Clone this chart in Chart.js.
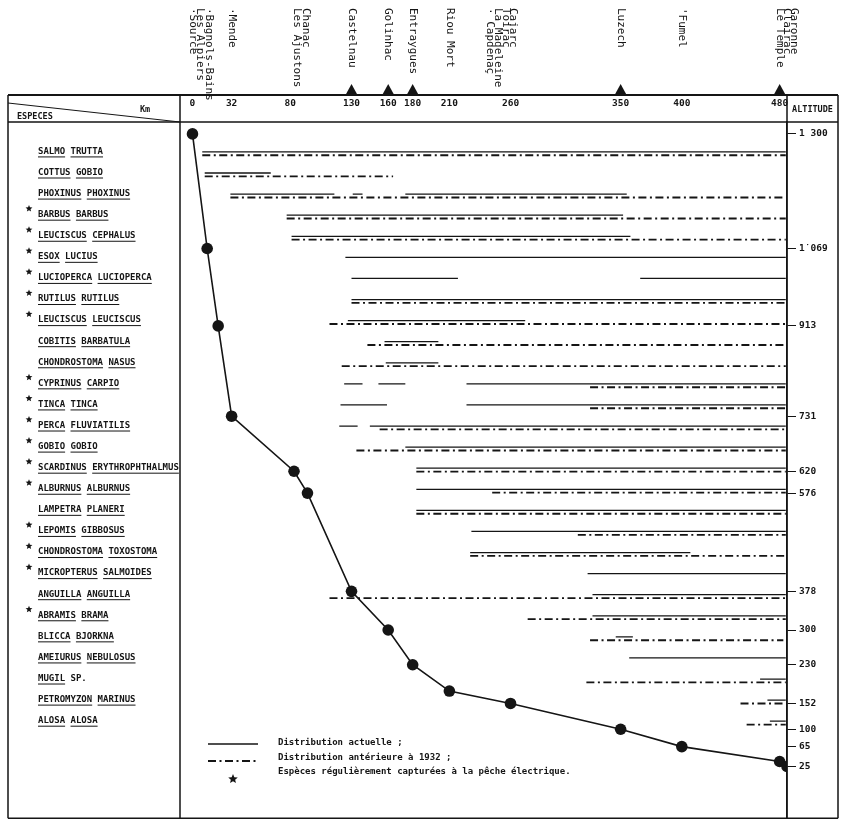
<!DOCTYPE html>
<html>
<head>
<meta charset="utf-8">
<script src="https://cdn.jsdelivr.net/npm/chart.js@4.4.0/dist/chart.umd.min.js"></script>
<style>
  html, body { margin: 0; padding: 0; background: #fff; }
</style>
</head>
<body>
<canvas id="chart" width="843" height="824"></canvas>
<script>
// ── Data ──────────────────────────────────────────────────
const kmTicks = [0, 32, 80, 130, 160, 180, 210, 260, 350, 400, 480];
const damKm = [130, 160, 180, 350, 480];

const altTicks = [1300, 1069, 913, 731, 620, 576, 378, 300, 230, 152, 100, 65, 25];
const altTickLabels = ["1 300", "1˙069", "913", "731", "620", "576", "378", "300", "230", "152", "100", "65", "25"];

const stationNames = ["·Source", "Les Alpiers", "·Bagnols-Bains", "·Mende", "Les Ajustons", "Chanac",
  "Castelnau", "Golinhac", "Entraygues", "Riou Mort", "· Capdenaç", "La Madeleine", "Toirac", "Cajarc",
  "Luzech", "'Fumel", "Le Temple", "Clairac", "Garonne"];
const stationKm = [0, 6, 13, 32, 85, 93, 130, 160, 180, 210, 243, 250, 256, 262, 350, 400, 480, 486, 492];

const profileKm = [0, 12, 21, 32, 83, 94, 130, 160, 180, 210, 260, 350, 400, 480, 486];
const profileAlt = [1300, 1069, 913, 731, 620, 576, 378, 300, 230, 177, 152, 100, 65, 35, 25];

const species = [
  "SALMO TRUTTA", "COTTUS GOBIO", "PHOXINUS PHOXINUS", "BARBUS BARBUS", "LEUCISCUS CEPHALUS",
  "ESOX LUCIUS", "LUCIOPERCA LUCIOPERCA", "RUTILUS RUTILUS", "LEUCISCUS LEUCISCUS", "COBITIS BARBATULA",
  "CHONDROSTOMA NASUS", "CYPRINUS CARPIO", "TINCA TINCA", "PERCA FLUVIATILIS", "GOBIO GOBIO",
  "SCARDINUS ERYTHROPHTHALMUS", "ALBURNUS ALBURNUS", "LAMPETRA PLANERI", "LEPOMIS GIBBOSUS",
  "CHONDROSTOMA TOXOSTOMA", "MICROPTERUS SALMOIDES", "ANGUILLA ANGUILLA", "ABRAMIS BRAMA",
  "BLICCA BJORKNA", "AMEIURUS NEBULOSUS", "MUGIL SP.", "PETROMYZON MARINUS", "ALOSA ALOSA"
];
// species caught regularly by electric fishing (star)
const starred = [0, 0, 0, 1, 1, 1, 1, 1, 1, 0, 0, 1, 1, 1, 1, 1, 1, 0, 1, 1, 1, 0, 1, 0, 0, 0, 0, 0];

// km ranges, current distribution (solid)
const current = [
  [[8, 485]], [[10, 64]], [[31, 116], [131, 139], [174, 355]], [[77, 352]], [[81, 358]],
  [[125, 485]], [[130, 217], [366, 485]], [[130, 485]], [[127, 272]], [[157, 201]],
  [[158, 201]], [[124, 139], [152, 174], [224, 485]], [[121, 159], [224, 485]], [[120, 135], [145, 485]], [[174, 485]],
  [[183, 485]], [[183, 485]], [[183, 485]], [[228, 485]],
  [[227, 407]], [[323, 485]], [[327, 485]], [[327, 485]],
  [[346, 360]], [[357, 485]], [[464, 485]], [[470, 485]], [[472, 485]]
];
// km ranges, distribution before 1932 (dash-dot)
const before1932 = [
  [[8, 485]], [[10, 164]], [[31, 485]], [[77, 485]], [[81, 485]],
  [], [], [[130, 485]], [[112, 485]], [[143, 485]],
  [[122, 485]], [[325, 485]], [[325, 485]], [[153, 485]], [[134, 485]],
  [[183, 485]], [[245, 485]], [[183, 485]], [[315, 485]],
  [[227, 485]], [], [[112, 485]], [[274, 485]],
  [[325, 483]], [], [[322, 485]], [[448, 485]], [[453, 485]]
];

// ── Style ─────────────────────────────────────────────────
const INK = "#151515";
const MONO = '"DejaVu Sans Mono", "Liberation Mono", monospace';
const DASHDOT = [8, 3.5, 2, 3.5];

// ── Helpers ───────────────────────────────────────────────
function drawStar(ctx, cx, cy, r) {
  ctx.beginPath();
  for (let k = 0; k < 10; k++) {
    const rr = k % 2 === 0 ? r : r * 0.45;
    const a = -Math.PI / 2 + (k * Math.PI) / 5;
    ctx.lineTo(cx + rr * Math.cos(a), cy + rr * Math.sin(a));
  }
  ctx.closePath();
  ctx.fill();
}

// ── Datasets ──────────────────────────────────────────────
const datasets = [];
species.forEach((name, i) => {
  current[i].forEach(([a, b]) => {
    datasets.push({
      data: [{ x: a, y: i - 0.07 }, { x: b, y: i - 0.07 }],
      yAxisID: "ySp", showLine: true, borderColor: INK, borderWidth: 1.3,
      pointRadius: 0, borderCapStyle: "butt",
    });
  });
  before1932[i].forEach(([a, b]) => {
    datasets.push({
      data: [{ x: a, y: i + 0.09 }, { x: b, y: i + 0.09 }],
      yAxisID: "ySp", showLine: true, borderColor: INK, borderWidth: 1.9,
      borderDash: DASHDOT, pointRadius: 0, borderCapStyle: "butt",
    });
  });
});
datasets.push({
  data: profileKm.map((k, i) => ({ x: k, y: profileAlt[i] })),
  yAxisID: "yAlt", showLine: true, borderColor: INK, borderWidth: 1.6,
  pointRadius: 5.8, pointBackgroundColor: INK, pointBorderWidth: 0,
});

// ── Frame, labels, legend ─────────────────────────────────
const framePlugin = {
  id: "frame",
  beforeDraw(chart) {
    const ctx = chart.ctx;
    ctx.save();
    ctx.fillStyle = "#fff";
    ctx.fillRect(0, 0, chart.width, chart.height);
    ctx.restore();
  },
  afterDraw(chart) {
    const ctx = chart.ctx;
    const { left, right, top, bottom } = chart.chartArea;
    const xs = chart.scales.x;
    const sp = chart.scales.ySp;
    const L = 8, R = 838, T = 95;
    ctx.save();
    ctx.strokeStyle = INK;
    ctx.fillStyle = INK;

    // table lines
    ctx.lineWidth = 2;
    ctx.beginPath();
    ctx.moveTo(L, T); ctx.lineTo(R, T);
    ctx.stroke();
    ctx.lineWidth = 1.5;
    ctx.beginPath();
    ctx.moveTo(L, top); ctx.lineTo(R, top);
    ctx.moveTo(L, T); ctx.lineTo(L, bottom);
    ctx.moveTo(R, T); ctx.lineTo(R, bottom);
    ctx.moveTo(left, T); ctx.lineTo(left, bottom);
    ctx.moveTo(right, T); ctx.lineTo(right, bottom);
    ctx.moveTo(L, bottom); ctx.lineTo(R, bottom);
    ctx.stroke();
    ctx.lineWidth = 1;
    ctx.beginPath();
    ctx.moveTo(L, T + 8); ctx.lineTo(left, top);
    ctx.stroke();

    // header texts
    ctx.font = "bold 8.5px " + MONO;
    ctx.textBaseline = "middle";
    ctx.textAlign = "left";
    ctx.fillText("ESPECES", 17, top - 5);
    ctx.fillText("Km", 140, T + 15);
    ctx.textAlign = "center";
    ctx.fillText("ALTITUDE", (right + R) / 2, (T + top) / 2 + 1);

    // dams
    damKm.forEach((k) => {
      const x = xs.getPixelForValue(k);
      ctx.beginPath();
      ctx.moveTo(x - 6, T); ctx.lineTo(x + 6, T); ctx.lineTo(x, T - 11);
      ctx.closePath();
      ctx.fill();
    });

    // station names, rotated
    ctx.font = "11px " + MONO;
    ctx.textAlign = "left";
    stationNames.forEach((n, i) => {
      const x = xs.getPixelForValue(stationKm[i]);
      ctx.save();
      ctx.translate(x, 8);
      ctx.rotate(Math.PI / 2);
      ctx.fillText(n, 0, 0);
      ctx.restore();
    });

    // species names, underlined word by word
    ctx.font = "bold 9px " + MONO;
    ctx.textAlign = "left";
    const space = ctx.measureText(" ").width;
    species.forEach((name, i) => {
      const y = sp.getPixelForValue(i) - 2;
      let x = 38;
      name.split(" ").forEach((w) => {
        const wd = ctx.measureText(w).width;
        ctx.fillText(w, x, y);
        if (w !== "SP.") ctx.fillRect(x, y + 5, wd, 1);
        x += wd + space;
      });
      if (starred[i]) drawStar(ctx, 29, y - 6, 3.6);
    });

    // legend
    const lx0 = 208, lx1 = 258, tx = 278;
    ctx.lineWidth = 1.5;
    ctx.beginPath();
    ctx.moveTo(lx0, 744); ctx.lineTo(lx1, 744);
    ctx.stroke();
    ctx.lineWidth = 1.9;
    ctx.setLineDash(DASHDOT);
    ctx.beginPath();
    ctx.moveTo(lx0, 761); ctx.lineTo(lx1, 761);
    ctx.stroke();
    ctx.setLineDash([]);
    drawStar(ctx, 233, 779, 5);
    ctx.font = "bold 9px " + MONO;
    ctx.fillText("Distribution actuelle ;", tx, 743);
    ctx.fillText("Distribution antérieure à 1932 ;", tx, 758);
    ctx.fillText("Espèces régulièrement capturées à la pêche électrique.", tx, 772);
    ctx.restore();
  },
};

// ── Chart ─────────────────────────────────────────────────
new Chart(document.getElementById("chart"), {
  type: "scatter",
  data: { datasets },
  options: {
    responsive: false,
    animation: false,
    devicePixelRatio: 1,
    layout: { padding: { top: 0, bottom: -2, left: 0, right: 0 } },
    plugins: { legend: { display: false }, tooltip: { enabled: false } },
    scales: {
      x: {
        type: "linear",
        position: "top",
        min: -10.2,
        max: 486,
        afterBuildTicks: (s) => { s.ticks = kmTicks.map((v) => ({ value: v })); },
        afterFit: (s) => {
          s.height = 122;
          s.paddingLeft = 0;
          s.paddingRight = 0;
        },
        grid: { display: false },
        border: { display: false },
        ticks: {
          autoSkip: false, maxRotation: 0, padding: 5, color: INK,
          font: { family: MONO, size: 9.5, weight: "bold" },
          callback: (v) => String(v),
        },
      },
      ySp: {
        type: "linear",
        position: "left",
        reverse: true,
        min: -1.49,
        max: 31.53,
        afterFit: (s) => {
          s.width = 180;
          s.paddingTop = 0;
          s.paddingBottom = 0;
        },
        ticks: { display: false },
        grid: { display: false },
        border: { display: false },
      },
      yAlt: {
        type: "linear",
        position: "right",
        min: -79.3,
        max: 1324,
        afterBuildTicks: (s) => {
          s.ticks = [...altTicks].sort((a, b) => a - b).map((v) => ({ value: v }));
        },
        afterFit: (s) => {
          s.width = 56;
          s.paddingTop = 0;
          s.paddingBottom = 0;
        },
        grid: { drawOnChartArea: false, tickLength: 9, color: INK, lineWidth: 1 },
        border: { display: true, color: INK, width: 1.5 },
        ticks: {
          padding: 3, color: INK,
          font: { family: MONO, size: 9.5, weight: "bold" },
          callback: (v) => altTickLabels[altTicks.indexOf(v)],
        },
      },
    },
  },
  plugins: [framePlugin],
});
</script>
</body>
</html>
